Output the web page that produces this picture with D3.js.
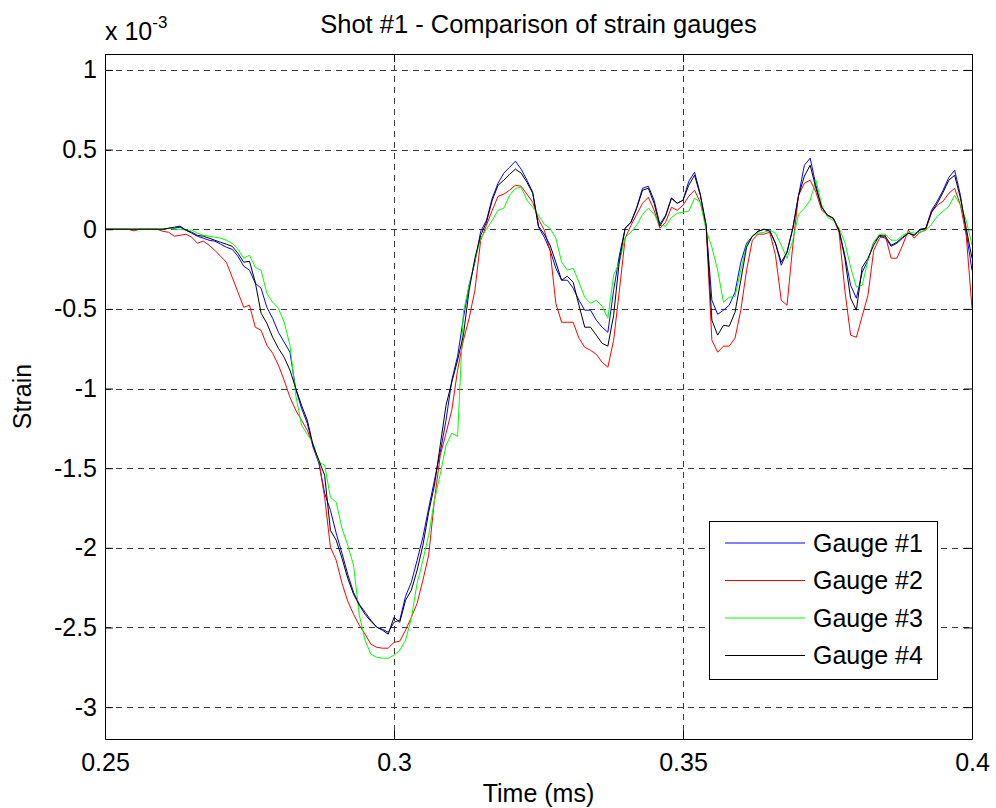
<!DOCTYPE html>
<html>
<head>
<meta charset="utf-8">
<script src="https://cdn.jsdelivr.net/npm/d3@7"></script>
<style>
  html, body { margin: 0; padding: 0; background: #fff; }
  svg { display: block; font-family: "Liberation Sans", Arial, Helvetica, sans-serif; }
</style>
</head>
<body>
<svg id="chart" width="996" height="808"></svg>
<script>
// ---- data (strain in units of 1e-3, time in ms) ----
const time = [
0.250,0.251,0.252,0.253,0.254,0.255,0.256,0.257,0.258,0.259,
0.260,0.261,0.262,0.263,0.264,0.265,0.266,0.267,0.268,0.269,
0.270,0.271,0.272,0.273,0.274,0.275,0.276,0.277,0.278,0.279,
0.280,0.281,0.282,0.283,0.284,0.285,0.286,0.287,0.288,0.289,
0.290,0.291,0.292,0.293,0.294,0.295,0.296,0.297,0.298,0.299,
0.300,0.301,0.302,0.303,0.304,0.305,0.306,0.307,0.308,0.309,
0.310,0.311,0.312,0.313,0.314,0.315,0.316,0.317,0.318,0.319,
0.320,0.321,0.322,0.323,0.324,0.325,0.326,0.327,0.328,0.329,
0.330,0.331,0.332,0.333,0.334,0.335,0.336,0.337,0.338,0.339,
0.340,0.341,0.342,0.343,0.344,0.345,0.346,0.347,0.348,0.349,
0.350,0.351,0.352,0.353,0.354,0.355,0.356,0.357,0.358,0.359,
0.360,0.361,0.362,0.363,0.364,0.365,0.366,0.367,0.368,0.369,
0.370,0.371,0.372,0.373,0.374,0.375,0.376,0.377,0.378,0.379,
0.380,0.381,0.382,0.383,0.384,0.385,0.386,0.387,0.388,0.389,
0.390,0.391,0.392,0.393,0.394,0.395,0.396,0.397,0.398,0.399,
0.400];

const gauge1 = [
0,0,0,0,0,0,0,0,0,0,
0,0.006,0.006,0.013,-0.006,-0.025,-0.044,-0.056,-0.069,-0.075,
-0.094,-0.113,-0.126,-0.17,-0.232,-0.257,-0.339,-0.37,-0.49,-0.559,
-0.647,-0.709,-0.772,-1.004,-1.124,-1.218,-1.368,-1.469,-1.657,-1.764,
-1.908,-2.034,-2.166,-2.279,-2.354,-2.404,-2.454,-2.498,-2.511,-2.53,
-2.467,-2.454,-2.304,-2.216,-2.078,-1.933,-1.751,-1.576,-1.4,-1.199,
-0.948,-0.797,-0.559,-0.352,-0.207,-0.013,0.056,0.195,0.289,0.352,
0.389,0.427,0.377,0.308,0.232,0.013,-0.05,-0.132,-0.245,-0.32,
-0.32,-0.37,-0.446,-0.508,-0.508,-0.571,-0.615,-0.647,-0.383,-0.163,
0.006,0.044,0.138,0.257,0.27,0.182,0.031,0.088,0.195,0.163,
0.182,0.301,0.358,0.22,0.025,-0.446,-0.534,-0.508,-0.477,-0.395,
-0.207,-0.088,-0.044,-0.013,0,-0.006,-0.088,-0.226,-0.144,0.006,
0.213,0.402,0.446,0.276,0.138,0.088,0.069,-0.006,-0.163,-0.352,
-0.433,-0.27,-0.195,-0.082,-0.044,-0.056,-0.107,-0.088,-0.056,-0.025,
-0.038,-0.006,0.006,0.119,0.176,0.245,0.326,0.37,0.213,-0.019,
-0.257];

const gauge2 = [
0,0,0,0,0,-0.01,0,0,0,0,
-0.013,-0.019,-0.044,-0.038,-0.031,-0.05,-0.088,-0.075,-0.1,-0.132,
-0.17,-0.207,-0.301,-0.395,-0.49,-0.477,-0.615,-0.634,-0.728,-0.778,
-0.853,-0.948,-1.055,-1.136,-1.199,-1.262,-1.356,-1.456,-1.682,-1.996,
-2.078,-2.222,-2.335,-2.417,-2.486,-2.542,-2.605,-2.624,-2.63,-2.63,
-2.593,-2.586,-2.517,-2.436,-2.348,-2.203,-2.046,-1.701,-1.419,-1.281,
-1.136,-0.885,-0.697,-0.559,-0.383,-0.069,0.025,0.119,0.207,0.22,
0.245,0.276,0.27,0.22,0.169,0.063,-0.006,-0.132,-0.465,-0.584,
-0.584,-0.584,-0.684,-0.741,-0.76,-0.785,-0.835,-0.866,-0.697,-0.383,
-0.056,0.025,0.094,0.163,0.201,0.119,0.006,0.044,0.138,0.119,
0.151,0.207,0.245,0.169,0.019,-0.697,-0.772,-0.734,-0.734,-0.684,
-0.508,-0.257,-0.069,-0.031,-0.031,-0.019,-0.163,-0.446,-0.477,-0.1,
0.213,0.289,0.308,0.232,0.119,0.088,0.069,-0.019,-0.383,-0.665,
-0.678,-0.546,-0.414,-0.132,-0.056,-0.038,-0.182,-0.182,-0.1,-0.006,
-0.056,-0.019,-0.006,0.107,0.151,0.176,0.226,0.257,0.151,-0.038,
-0.496];

const gauge3 = [
0,0,0,0,0,0,0,0,0,0,
0,0.006,0,0,-0.006,-0.006,-0.025,-0.038,-0.044,-0.05,
-0.056,-0.069,-0.088,-0.126,-0.182,-0.163,-0.239,-0.257,-0.402,-0.458,
-0.496,-0.584,-0.728,-1.042,-1.23,-1.287,-1.343,-1.463,-1.481,-1.682,
-1.714,-1.877,-1.984,-2.109,-2.423,-2.58,-2.668,-2.687,-2.693,-2.693,
-2.674,-2.643,-2.58,-2.442,-2.222,-2.078,-1.921,-1.701,-1.538,-1.356,
-1.281,-1.3,-0.521,-0.352,-0.195,-0.056,0,0.056,0.119,0.132,
0.213,0.257,0.264,0.182,0.138,0.088,0.031,0.006,-0.056,-0.207,
-0.257,-0.245,-0.333,-0.427,-0.465,-0.446,-0.483,-0.559,-0.289,-0.207,
-0.05,-0.019,0.025,0.094,0.132,0.094,0.025,0.019,0.075,0.1,
0.107,0.113,0.195,0.169,-0.006,-0.113,-0.257,-0.458,-0.427,-0.421,
-0.257,-0.1,-0.044,-0.025,-0.019,-0.006,-0.025,-0.1,-0.182,-0.069,
0.094,0.132,0.182,0.308,0.151,0.075,0.056,0.006,-0.082,-0.239,
-0.364,-0.352,-0.195,-0.082,-0.031,-0.031,-0.069,-0.069,-0.038,-0.019,
-0.025,-0.019,-0.006,0.031,0.082,0.113,0.144,0.213,0.151,0.056,
-0.1];

const gauge4 = [
0,0,0,0,0,0,0,0,0,0,
0,0.006,0.013,0.019,-0.006,-0.019,-0.038,-0.044,-0.056,-0.069,
-0.082,-0.094,-0.107,-0.151,-0.207,-0.201,-0.333,-0.527,-0.59,-0.678,
-0.747,-0.804,-0.885,-0.998,-1.105,-1.199,-1.356,-1.45,-1.544,-1.89,
-1.952,-2.065,-2.191,-2.291,-2.36,-2.417,-2.461,-2.498,-2.517,-2.542,
-2.436,-2.467,-2.329,-2.266,-2.141,-1.984,-1.776,-1.607,-1.356,-1.105,
-0.96,-0.822,-0.665,-0.383,-0.182,-0.038,0.044,0.182,0.276,0.308,
0.345,0.377,0.352,0.295,0.226,0.019,-0.031,-0.1,-0.207,-0.32,
-0.295,-0.333,-0.477,-0.615,-0.615,-0.665,-0.716,-0.734,-0.54,-0.195,
0.006,0.044,0.132,0.245,0.257,0.163,0.019,0.082,0.195,0.163,
0.182,0.276,0.339,0.213,0.025,-0.571,-0.665,-0.603,-0.609,-0.521,
-0.32,-0.113,-0.044,-0.013,0,-0.013,-0.088,-0.207,-0.144,0.006,
0.213,0.333,0.402,0.257,0.138,0.088,0.069,-0.006,-0.182,-0.433,
-0.508,-0.239,-0.182,-0.1,-0.038,-0.044,-0.1,-0.082,-0.05,-0.025,
-0.038,0,0.006,0.107,0.163,0.232,0.308,0.339,0.195,0.006,
-0.182];

const seriesNames = ["Gauge #1", "Gauge #2", "Gauge #3", "Gauge #4"];
const seriesColors = ["#0000ff", "#ff0000", "#00ff00", "#000000"];
const seriesValues = [gauge1, gauge2, gauge3, gauge4];
const xTicks = [0.25, 0.3, 0.35, 0.4];
const xTickLabels = ["0.25", "0.3", "0.35", "0.4"];
const yTicks = [-3, -2.5, -2, -1.5, -1, -0.5, 0, 0.5, 1];
const yTickLabels = ["-3", "-2.5", "-2", "-1.5", "-1", "-0.5", "0", "0.5", "1"];
const titleText = "Shot #1 - Comparison of strain gauges";
const xLabelText = "Time (ms)";
const yLabelText = "Strain";

// ---- layout ----
const L = 105, R = 972, T = 54, B = 739;
const FS = 25;
const svg = d3.select("#chart");
const x = d3.scaleLinear().domain([0.25, 0.4]).range([L, R]);
const y = d3.scaleLinear().domain([-3.2, 1.1]).range([B, T]);

svg.append("rect").attr("x", 0).attr("y", 0).attr("width", 996).attr("height", 808).attr("fill", "#fff");

// grid
const grid = svg.append("g").attr("stroke", "#3a3a3a").attr("stroke-width", 1)
  .attr("stroke-dasharray", "6,5").attr("fill", "none");
xTicks.forEach(t => {
  if (t > 0.25 && t < 0.4) grid.append("line")
    .attr("x1", Math.round(x(t)) + 0.5).attr("x2", Math.round(x(t)) + 0.5)
    .attr("y1", T).attr("y2", B);
});
yTicks.forEach(t => {
  grid.append("line").attr("x1", L).attr("x2", R)
    .attr("y1", Math.round(y(t)) + 0.5).attr("y2", Math.round(y(t)) + 0.5);
});

// series
svg.append("clipPath").attr("id", "clip").append("rect")
  .attr("x", L).attr("y", T).attr("width", R - L).attr("height", B - T);
const line = d3.line().x((d, i) => x(time[i])).y(d => y(d));
seriesValues.forEach((vals, k) => {
  svg.append("path").datum(vals)
    .attr("clip-path", "url(#clip)")
    .attr("fill", "none").attr("stroke", seriesColors[k]).attr("stroke-width", 1)
    .attr("stroke-linejoin", "round")
    .attr("d", line);
});

// axes (MATLAB-style box with inward ticks)
const axB = d3.axisBottom(x).tickValues(xTicks).tickFormat((d, i) => xTickLabels[i]).tickSizeInner(-8).tickSizeOuter(0).tickPadding(14);
const axT = d3.axisTop(x).tickValues(xTicks).tickFormat("").tickSizeInner(-8).tickSizeOuter(0);
const axLft = d3.axisLeft(y).tickValues(yTicks).tickFormat((d, i) => yTickLabels[i]).tickSizeInner(-8).tickSizeOuter(0).tickPadding(8);
const axRt = d3.axisRight(y).tickValues(yTicks).tickFormat("").tickSizeInner(-8).tickSizeOuter(0);

function styleAxis(g) {
  g.select(".domain").attr("stroke", "#000").attr("stroke-width", 1);
  g.selectAll(".tick line").attr("stroke", "#000");
  g.selectAll("text").attr("fill", "#000").style("font-size", FS + "px")
    .style("font-family", "'Liberation Sans', Arial, sans-serif");
}
svg.append("g").attr("transform", `translate(0,${B})`).call(axB).call(styleAxis);
svg.append("g").attr("transform", `translate(0,${T})`).call(axT).call(styleAxis);
svg.append("g").attr("transform", `translate(${L},0)`).call(axLft).call(styleAxis);
svg.append("g").attr("transform", `translate(${R},0)`).call(axRt).call(styleAxis);

// titles
svg.append("text").attr("x", (L + R) / 2).attr("y", 33).attr("text-anchor", "middle")
  .style("font-size", "25.5px").text(titleText);
svg.append("text").attr("x", (L + R) / 2).attr("y", 802).attr("text-anchor", "middle")
  .style("font-size", FS + "px").text(xLabelText);
svg.append("text").attr("transform", `translate(31,${(T + B) / 2}) rotate(-90)`)
  .attr("text-anchor", "middle").style("font-size", FS + "px").text(yLabelText);

// exponent label
const ex = svg.append("text").attr("x", L).attr("y", 40).style("font-size", FS + "px");
ex.append("tspan").text("x 10");
ex.append("tspan").attr("dy", -12).style("font-size", "17px").text("-3");

// legend
const lg = svg.append("g");
lg.append("rect").attr("x", 709.5).attr("y", 521.5).attr("width", 228).attr("height", 158)
  .attr("fill", "#fff").attr("stroke", "#000").attr("stroke-width", 1);
const rowY = [543, 580.5, 618, 655.5];
seriesNames.forEach((name, k) => {
  lg.append("line").attr("x1", 725).attr("x2", 805).attr("y1", rowY[k]).attr("y2", rowY[k])
    .attr("stroke", seriesColors[k]).attr("stroke-width", 1);
  lg.append("text").attr("x", 813).attr("y", rowY[k] + 8.5)
    .style("font-size", FS + "px").text(name);
});
</script>
</body>
</html>
